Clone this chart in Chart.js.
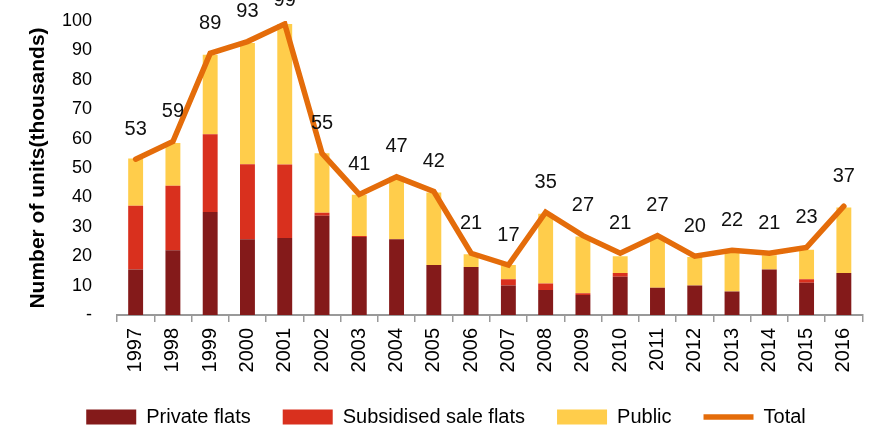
<!DOCTYPE html>
<html>
<head>
<meta charset="utf-8">
<script src="https://cdn.jsdelivr.net/npm/chart.js@4"></script>
<style>
  html, body { margin: 0; padding: 0; background: #fff; }
  #wrap { width: 874px; height: 428px; position: relative; }
</style>
</head>
<body>
<div id="wrap"><canvas id="grafico"></canvas></div>
<script>
// Dados
const anos = ['1997', '1998', '1999', '2000', '2001', '2002', '2003', '2004', '2005', '2006',
              '2007', '2008', '2009', '2010', '2011', '2012', '2013', '2014', '2015', '2016'];
const privados = [15.5, 22, 35, 25.8, 26.2, 33.8, 26.5, 25.8, 17, 16.3, 10, 8.5, 6.8, 13, 9.3, 10, 8, 15.5, 11, 14.3];
const subsidiados = [21.7, 22, 26.5, 25.5, 25, 1, 0.4, 0, 0, 0, 2.2, 2.2, 0.6, 1.3, 0, 0, 0, 0, 1.2, 0];
const publicos = [16, 14.5, 27, 41.2, 47.8, 20.2, 14, 21.2, 24.7, 4.4, 4.8, 23.7, 19.3, 5.7, 17.2, 9.7, 13.4, 4.8, 10, 22.3];
const totais = [53, 59, 89, 93, 99, 55, 41, 47, 42, 21, 17, 35, 27, 21, 27, 20, 22, 21, 23, 37];
const yTicks = [0, 10, 20, 30, 40, 50, 60, 70, 80, 90, 100];

const fonte = "'Liberation Sans', Arial, sans-serif";

// Rótulos dos totais acima da linha
const rotulosTotal = {
  id: 'rotulosTotal',
  afterDatasetsDraw(chart) {
    const meta = chart.getDatasetMeta(3);
    const ctx = chart.ctx;
    ctx.save();
    ctx.font = '20px ' + fonte;
    ctx.fillStyle = '#111';
    ctx.textAlign = 'center';
    ctx.textBaseline = 'middle';
    meta.data.forEach((pt, i) => {
      ctx.fillText(String(totais[i]), pt.x, Math.max(pt.y - 30, 0));
    });
    ctx.restore();
  }
};

// Ajustes finos: legenda mais abaixo/à direita, anos sem corte
const ajusteLayout = {
  id: 'ajusteLayout',
  afterLayout(chart) {
    const lg = chart.legend;
    lg.top += 9;
    lg.bottom += 9;
    lg.left += 12;
    lg.right += 12;
    chart.scales.x.bottom += 25;
  }
};

new Chart(document.getElementById('grafico'), {
  data: {
    labels: anos,
    datasets: [
      { type: 'bar', label: 'Private flats', data: privados, backgroundColor: '#841A1A', stack: 'a', pointStyle: 'rect', order: 1 },
      { type: 'bar', label: 'Subsidised sale flats', data: subsidiados, backgroundColor: '#D9301E', stack: 'a', pointStyle: 'rect', order: 1 },
      { type: 'bar', label: 'Public', data: publicos, backgroundColor: '#FFCD4B', stack: 'a', pointStyle: 'rect', order: 1 },
      { type: 'line', label: 'Total', data: totais, borderColor: '#E46C0A', backgroundColor: '#E46C0A',
        borderWidth: 5.5, pointRadius: 0, tension: 0, stack: 'total', pointStyle: 'line',
        borderCapStyle: 'round', borderJoinStyle: 'miter', order: 0 }
    ]
  },
  options: {
    responsive: true,
    maintainAspectRatio: false,
    animation: false,
    barPercentage: 0.4,
    categoryPercentage: 1.0,
    layout: { padding: { top: 21, right: 6, left: 0, bottom: 0 } },
    scales: {
      x: {
        stacked: true,
        offset: true,
        grid: { offset: true, drawOnChartArea: false, drawTicks: true, tickLength: 7, color: '#999', lineWidth: 1.5 },
        border: { display: true, color: '#999', width: 2 },
        ticks: { color: '#000', font: { family: fonte, size: 20 }, minRotation: 90, maxRotation: 90, padding: 6, autoSkip: false },
        afterFit: s => { s.height = 51; }
      },
      y: {
        stacked: true,
        min: 0,
        max: 100,
        grid: { display: false, drawTicks: true, tickLength: 22 },
        border: { display: false },
        afterBuildTicks: s => { s.ticks = yTicks.map(v => ({ value: v })); },
        ticks: {
          color: '#000',
          font: { family: fonte, size: 18 },
          padding: 3,
          callback: v => v === 0 ? '-' : v
        },
        title: {
          display: true,
          text: 'Number of units(thousands)',
          color: '#000',
          font: { family: fonte, size: 21, weight: 'bold' },
          padding: { top: 26, bottom: 0 }
        },
        afterFit: s => { s.width = 117; }
      }
    },
    plugins: {
      legend: {
        position: 'bottom',
        labels: {
          usePointStyle: true,
          pointStyleWidth: 50,
          boxHeight: 15,
          padding: 32,
          color: '#000',
          font: { family: fonte, size: 20 },
          sort: (a, b) => a.datasetIndex - b.datasetIndex
        }
      },
      tooltip: { enabled: false }
    }
  },
  plugins: [rotulosTotal, ajusteLayout]
});
</script>
</body>
</html>
